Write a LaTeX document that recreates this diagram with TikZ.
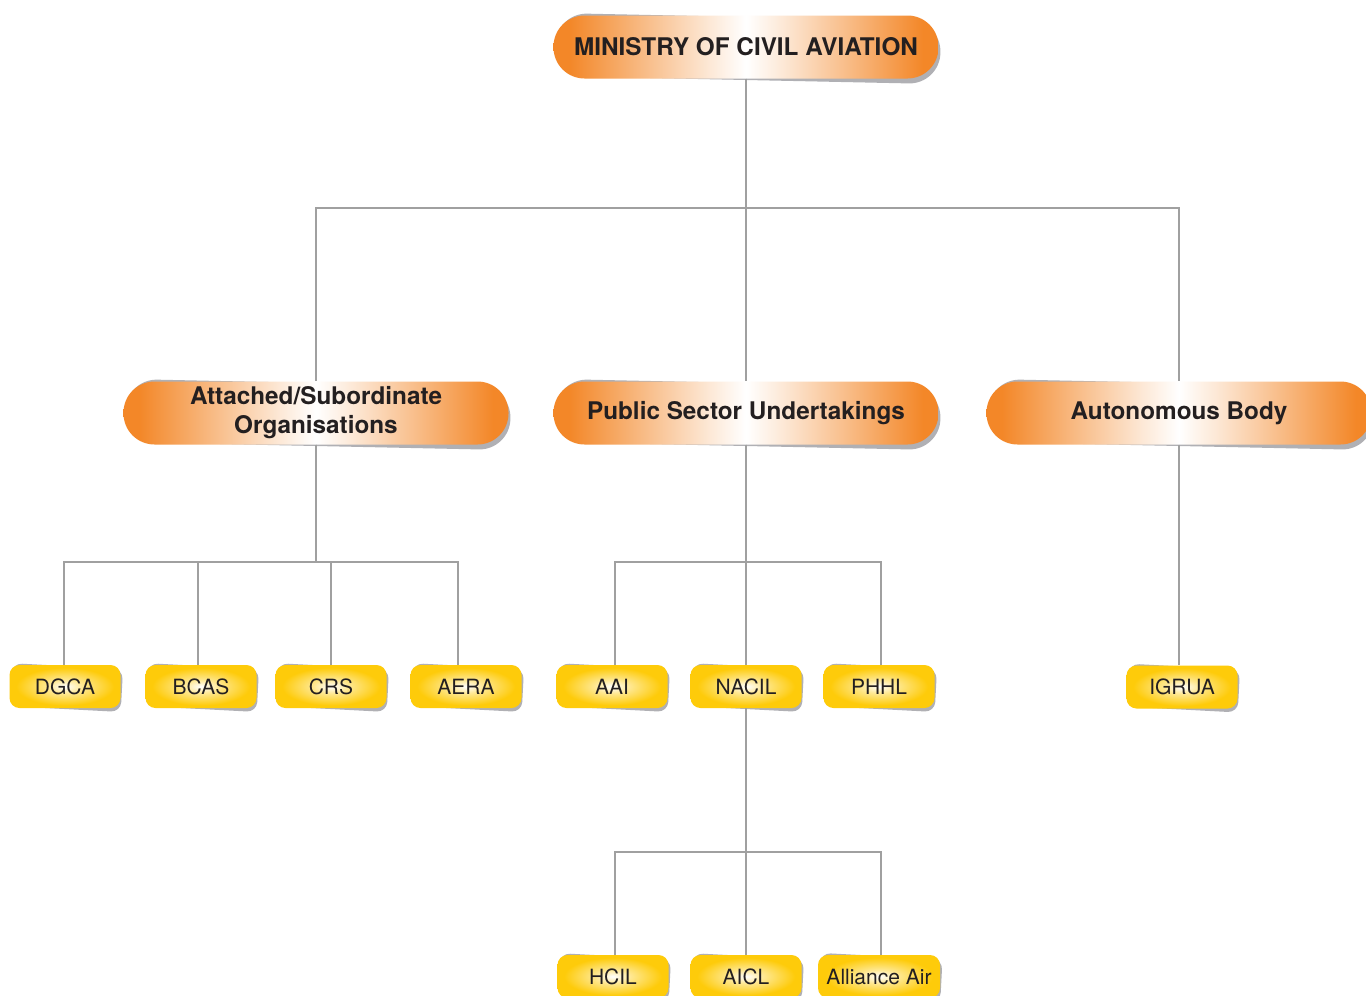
\documentclass[tikz,border=0pt]{standalone}
\usepackage{fontspec}
\setmainfont{TeX Gyre Heros}
\usepackage{tikz}
\usetikzlibrary{positioning}

\definecolor{pillorange}{RGB}{243,135,40}
\colorlet{pillmid}{white!45!pillorange}
\colorlet{pillpale}{white!80!pillorange}
\definecolor{tagyellow}{RGB}{254,203,10}
\colorlet{tagpale}{white!55!tagyellow}
\definecolor{shadowgray}{RGB}{176,176,180}
\definecolor{linegray}{RGB}{160,160,160}
\definecolor{ink}{RGB}{35,31,32}

\pgfdeclarehorizontalshading{pillglow}{100bp}{color(0bp)=(pillorange); color(27bp)=(pillorange);
  color(37bp)=(pillmid); color(45bp)=(pillpale); color(50bp)=(white); color(55bp)=(pillpale);
  color(63bp)=(pillmid); color(73bp)=(pillorange); color(100bp)=(pillorange)}
\pgfdeclareradialshading{tagglow}{\pgfpointorigin}{color(0bp)=(white); color(8bp)=(tagpale);
  color(22bp)=(tagyellow); color(50bp)=(tagyellow)}

\tikzset{
  pill/.style={rectangle, rounded corners=31pt, minimum width=385pt, minimum height=63pt,
    inner sep=0pt, align=center, text=ink, shade, shading=pillglow,
    font=\bfseries\fontsize{24.3}{29}\selectfont},
  pillshadow/.style={rectangle, rounded corners=31pt, minimum width=385pt, minimum height=63pt,
    inner sep=0pt, fill=shadowgray, rotate=-1.2, xshift=2pt, yshift=-1.5pt},
  tag/.style={rectangle, rounded corners=10pt, minimum width=#1, minimum height=43pt,
    inner sep=0pt, text=ink, shade, shading=tagglow, font=\fontsize{21}{25}\selectfont},
  tag/.default=111pt,
  tagshadow/.style={rectangle, rounded corners=10pt, minimum width=#1, minimum height=43pt,
    inner sep=0pt, fill=shadowgray, rotate=-3, xshift=1.5pt, yshift=-1pt},
  tagshadow/.default=111pt,
  link/.style={draw=linegray, line width=2pt}
}

\begin{document}
\begin{tikzpicture}[x=1pt, y=-1pt]
  \useasboundingbox[fill=white] (0,0) rectangle (1366,996);

  % Create nodes
  \node[pillshadow] (mca-sh) at (746,47) {};
  \node[pill] (mca) at (746,47) {MINISTRY OF CIVIL AVIATION};

  \node[pillshadow] (att-sh) at (316,413) {};
  \node[pill] (att) at (316,413) {Attached/Subordinate\\Organisations};
  \node[pillshadow] (psu-sh) at (746,413) {};
  \node[pill] (psu) at (746,413) {Public Sector Undertakings};
  \node[pillshadow] (auto-sh) at (1179,413) {};
  \node[pill] (auto) at (1179,413) {Autonomous Body};

  \foreach \n/\x/\y/\w/\t in {dgca/65/686.5/111pt/DGCA, bcas/201/686.5/111pt/BCAS,
      crs/331/686.5/111pt/CRS, aera/466/686.5/111pt/AERA,
      aai/612/686.5/111pt/AAI, nacil/746/686.5/111pt/NACIL, phhl/879/686.5/111pt/PHHL,
      igrua/1182/687/111pt/IGRUA,
      hcil/613/976.5/111pt/HCIL, aicl/746/976.5/111pt/AICL, alliance/879/976.5/122pt/Alliance Air}{
    \node[tagshadow=\w] (\n-sh) at (\x,\y) {};
    \node[tag=\w] (\n) at (\x,\y) {\t};
  }

  % Connectors
  \draw[link] (mca.south) -- (psu.north);
  \draw[link] (mca.south) -- ++(0,129.5) -| (att.north);
  \draw[link] (mca.south) -- ++(0,129.5) -| (auto.north);

  \draw[link] (att.south) -- ++(0,117.5) -| ([xshift=-1pt]dgca.north);
  \draw[link] (att.south) -- ++(0,117.5) -| ([xshift=-3pt]bcas.north);
  \draw[link] (att.south) -- ++(0,117.5) -| (crs.north);
  \draw[link] (att.south) -- ++(0,117.5) -| ([xshift=-8pt]aera.north);

  \draw[link] (psu.south) -- ++(0,117.5) -| ([xshift=3pt]aai.north);
  \draw[link] (psu.south) -- (nacil.north);
  \draw[link] (psu.south) -- ++(0,117.5) -| ([xshift=2pt]phhl.north);

  \draw[link] (auto.south) -- (auto.south |- igrua.north);

  \draw[link] (nacil.south) -- ++(0,143.5) -| ([xshift=2pt]hcil.north);
  \draw[link] (nacil.south) -- (aicl.north);
  \draw[link] (nacil.south) -- ++(0,143.5) -| ([xshift=2pt]alliance.north);
\end{tikzpicture}
\end{document}
